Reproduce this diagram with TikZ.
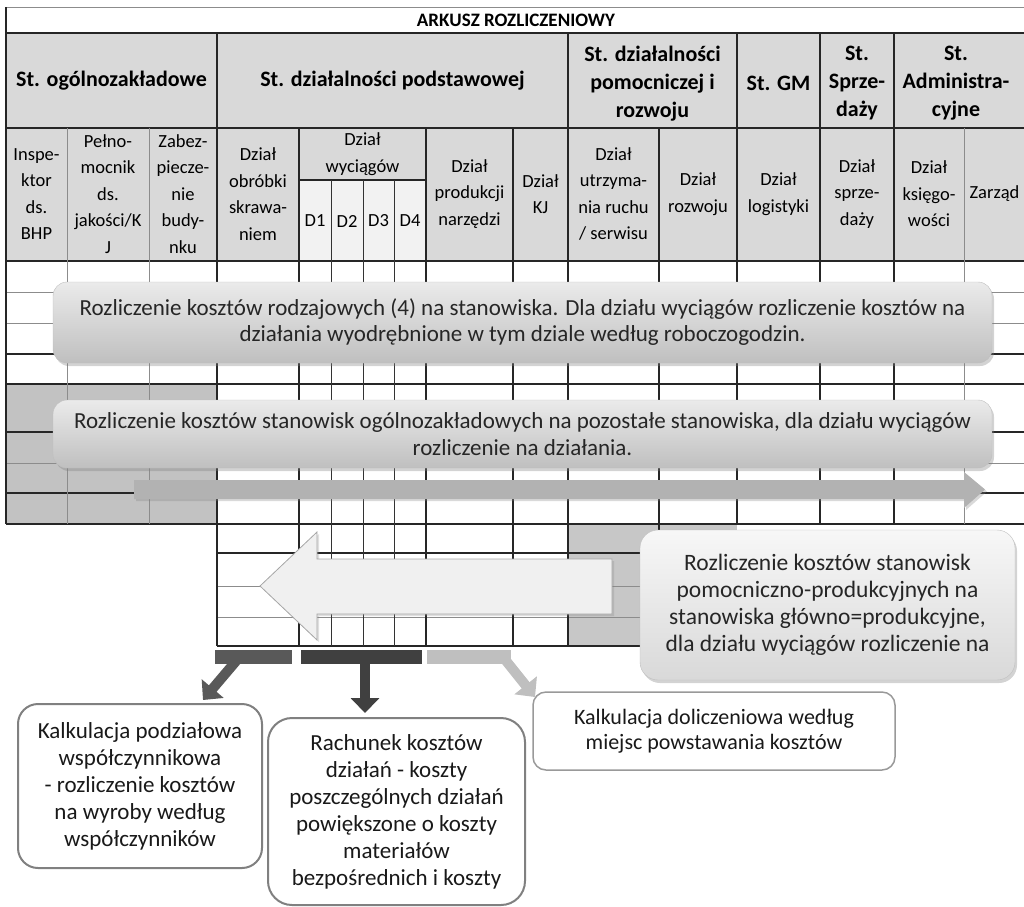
\documentclass[tikz,border=0pt]{standalone}
\usepackage{fontspec}
\setmainfont{Carlito}
\usetikzlibrary{shadows, arrows.meta, positioning}
\tikzstyle{thickline} = [line width=1.6pt, black!85]
\tikzstyle{midline} = [line width=1.1pt, black!85]
\tikzstyle{thinline} = [line width=0.8pt, black!45]
\tikzstyle{grouphead} = [font=\bfseries\fontsize{22}{28}\selectfont, align=center, inner sep=0pt]
\tikzstyle{colhead} = [font=\fontsize{18.5}{26.5}\selectfont, align=center, inner sep=0pt]
\tikzstyle{note} = [rectangle, rounded corners=14pt, draw=black!25, top color=black!8, bottom color=black!25, drop shadow={opacity=0.35, shadow xshift=2pt, shadow yshift=-3pt}, font=\fontsize{23}{26}\selectfont, align=center, text=black!85, inner sep=2pt]
\tikzstyle{calc} = [rectangle, rounded corners=20pt, draw=black!50, line width=2pt, fill=white, font=\fontsize{23}{27}\selectfont, align=center, text=black!90]
\tikzstyle{bar} = [rectangle, inner sep=0pt, minimum height=14pt]
\tikzstyle{fatarrow} = [line width=10pt, -{Triangle[width=28pt, length=15pt]}]

\begin{document}
\begin{tikzpicture}[x=1pt, y=-1pt]
    \useasboundingbox (0,0) rectangle (1024,906);
    \clip (0,0) rectangle (1024,906);

    % cell fills
    \fill [black!15] (6,33) rectangle (1040,261);
    \fill [black!5] (299,180) rectangle (426,261);
    \fill [black!24] (6,384) rectangle (217,524);
    \fill [black!22] (568,524) rectangle (737,646);

    % horizontal rules
    \draw [thinline] (6,7) -- (1040,7);
    \foreach \y in {33,128,261,354,384,524}
        \draw [thickline] (6,\y) -- (1040,\y);
    \foreach \y in {292,323,463}
        \draw [thinline] (6,\y) -- (1040,\y);
    \foreach \y in {432,493}
        \draw [midline] (6,\y) -- (1040,\y);
    \draw [midline] (299,180) -- (426,180);
    \draw [midline] (217,553) -- (737,553);
    \foreach \y in {586,617}
        \draw [thinline] (217,\y) -- (737,\y);
    \draw [thickline] (217,646) -- (737,646);

    % vertical rules
    \draw [midline] (6,7) -- (6,524);
    \foreach \x in {67,149,964}
        \draw [thinline] (\x,128) -- (\x,524);
    \foreach \x in {217,568}
        \draw [thickline] (\x,33) -- (\x,646);
    \foreach \x in {299,426,513,659}
        \draw [midline] (\x,128) -- (\x,646);
    \foreach \x in {331,363,394}
        \draw [thinline, black!80] (\x,180) -- (\x,646);
    \foreach \x in {737,820,894}
        \draw [thickline] (\x,33) -- (\x,524);

    % headings
    \node (title) [font=\bfseries\fontsize{19}{22}\selectfont] at (516,20) {ARKUSZ ROZLICZENIOWY};
    \node (stOgolne) [grouphead] at (111.5,81) {St. ogólnozakładowe};
    \node (stPodst) [grouphead] at (392.5,81) {St. działalności podstawowej};
    \node (stPomoc) [grouphead] at (652.5,83.5) {St. działalności\\pomocniczej i\\rozwoju};
    \node (stGM) [grouphead] at (778.5,83.5) {St. GM};
    \node (stSprz) [grouphead] at (857,83.5) {St.\\Sprze-\\daży};
    \node (stAdm) [grouphead] at (956,83.5) {St.\\Administra-\\cyjne};

    \node (bhp) [colhead] at (36.5,194) {Inspe-\\ktor\\ds.\\BHP};
    \node (pelnom) [colhead] at (108,194) {Pełno-\\mocnik\\ds.\\jakości/K\\J};
    \node (zabezp) [colhead] at (183,194) {Zabez-\\piecze-\\nie\\budy-\\nku};
    \node (obrobka) [colhead] at (258,194) {Dział\\obróbki\\skrawa-\\niem};
    \node (wyciagi) [colhead] at (362.5,154) {Dział\\wyciągów};
    \node (d1) [colhead] at (315,221) {D1};
    \node (d2) [colhead] at (347,221) {D2};
    \node (d3) [colhead] at (378.5,221) {D3};
    \node (d4) [colhead] at (410,221) {D4};
    \node (narzedzia) [colhead] at (469.5,194) {Dział\\produkcji\\narzędzi};
    \node (kj) [colhead] at (540.5,194) {Dział\\KJ};
    \node (utrzym) [colhead] at (613.5,194) {Dział\\utrzyma-\\nia ruchu\\/ serwisu};
    \node (rozwoj) [colhead] at (698,194) {Dział\\rozwoju};
    \node (logist) [colhead] at (778.5,194) {Dział\\logistyki};
    \node (sprzed) [colhead] at (857,194) {Dział\\sprze-\\daży};
    \node (ksieg) [colhead] at (929,194) {Dział\\księgo-\\wości};
    \node (zarzad) [colhead] at (994.5,194) {Zarząd};

    % steps over the sheet
    \node (step1) [note, minimum width=939pt, minimum height=81pt] at (522.5,322.5) {Rozliczenie kosztów rodzajowych (4) na stanowiska. Dla działu wyciągów rozliczenie kosztów na\\działania wyodrębnione w tym dziale według roboczogodzin.};
    \node (step2) [note, minimum width=939pt, minimum height=68pt, font=\fontsize{23}{27}\selectfont] at (522.5,434) {Rozliczenie kosztów stanowisk ogólnozakładowych na pozostałe stanowiska, dla działu wyciągów\\rozliczenie na działania.};
    \fill [black!30, drop shadow={opacity=0.3, shadow xshift=2pt, shadow yshift=-2pt}]
        (134,480) -- (964,480) -- (964,472) -- (985,489.5) -- (964,508) -- (964,499) -- (134,499) -- cycle;

    \filldraw [fill=black!6, draw=black!35, line width=0.8pt, drop shadow={opacity=0.25, shadow xshift=2pt, shadow yshift=-2pt}]
        (612,559) -- (317,559) -- (317,532) -- (260,586) -- (317,640) -- (317,614) -- (612,614) -- cycle;
    \node (step3) [note, minimum width=375pt, minimum height=150pt, rounded corners=18pt, top color=black!3, bottom color=black!15, font=\fontsize{23.5}{27}\selectfont] at (827.5,605) {Rozliczenie kosztów stanowisk\\pomocniczno-produkcyjnych na\\stanowiska główno=produkcyjne,\\dla działu wyciągów rozliczenie na};

    % outputs
    \node (bar1) [bar, fill=black!65, minimum width=77pt] at (253.5,657) {};
    \node (bar2) [bar, fill=black!75, minimum width=121pt] at (361.5,657) {};
    \node (bar3) [bar, fill=black!25, minimum width=84pt] at (469,657) {};

    \node (calcA) [calc] [minimum width=244pt, minimum height=164pt] at (140,786) {Kalkulacja podziałowa\\współczynnikowa\\- rozliczenie kosztów\\na wyroby według\\współczynników};
    \node (calcB) [calc] [minimum width=257pt, minimum height=187pt, rounded corners=24pt] at (396.5,811.5) {Rachunek kosztów\\działań - koszty\\poszczególnych działań\\powiększone o koszty\\materiałów\\bezpośrednich i koszty};
    \node (calcC) [calc] [minimum width=362pt, minimum height=78pt, rounded corners=13pt, draw=black!40, line width=1.5pt, font=\fontsize{22}{25}\selectfont] at (714,731) {Kalkulacja doliczeniowa według\\miejsc powstawania kosztów};

    \coordinate (tipA) at (203,700);
    \coordinate (tipB) at (365,713);
    \coordinate (tipC) at (535,697);
    \draw [fatarrow, black!65] ([xshift=-14pt]bar1.center) -- (tipA);
    \draw [fatarrow, black!75] ([xshift=3.5pt]bar2.center) -- (tipB);
    \draw [fatarrow, black!25] ([xshift=34pt]bar3.center) -- (tipC);
\end{tikzpicture}
\end{document}
